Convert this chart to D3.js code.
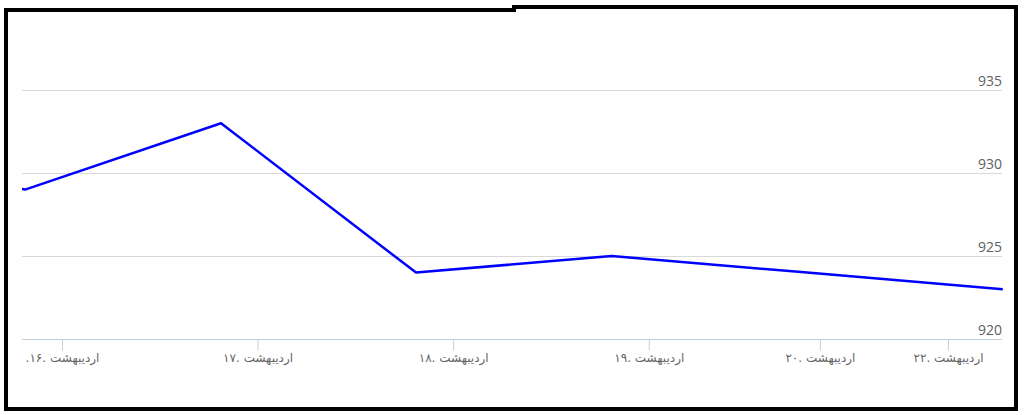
<!DOCTYPE html>
<html><head><meta charset="utf-8">
<script src="https://cdn.jsdelivr.net/npm/d3@7"></script>
<style>html,body{margin:0;padding:0;background:#fff;}svg{display:block;}</style>
</head><body>
<svg id="c" width="1024" height="415"></svg>
<script>
// Data (x in day-of-month units, Ordibehesht)
const pointDays = [14.811, 15.811, 16.813, 17.81, 18.81, 19.81, 20.81];
const values    = [931, 929, 933, 924, 925, 924, 923];
const tickDays   = [16, 17, 18, 19, 19.875, 20.53];
const tickLabels = [".۱۶. اردیبهشت", "۱۷. اردیبهشت", "۱۸. اردیبهشت", "۱۹. اردیبهشت", "۲۰. اردیبهشت", "۲۲. اردیبهشت"];
const yTicks = [920, 925, 930, 935];

const svg = d3.select("#c");
const left = 22, right = 1002, bottom = 339;
const x = d3.scaleLinear().domain([15.7955, 20.806]).range([left, right]);
const y = d3.scaleLinear().domain([920, 940]).range([bottom, bottom - 20*16.6]);

// gridlines
svg.append("g").selectAll("line").data(yTicks.filter(d => d !== 920)).join("line")
  .attr("x1", left).attr("x2", right)
  .attr("y1", d => y(d) + 0.5).attr("y2", d => y(d) + 0.5)
  .attr("stroke", "#d8d8d8").attr("stroke-width", 1);

// y labels
svg.append("g").selectAll("text").data(yTicks).join("text")
  .attr("x", right).attr("y", d => y(d) - 4)
  .attr("text-anchor", "end")
  .attr("font-family", "'Open Sans', sans-serif").attr("font-size", 14)
  .attr("fill", "#606060")
  .text(d => d);

// x axis
const xAxis = d3.axisBottom(x).tickValues(tickDays).tickSize(11).tickFormat((d, i) => tickLabels[i]);
const gx = svg.append("g").attr("transform", `translate(0,${bottom + 0.5})`).call(xAxis);
gx.select(".domain").attr("stroke", "#c0d0e0").attr("d", `M${left},0H${right}`);
gx.selectAll(".tick line").attr("stroke", "#c0d0e0");
gx.selectAll(".tick text")
  .attr("font-family", "'DejaVu Sans', sans-serif").attr("font-size", 12)
  .attr("fill", "#666").attr("dy", "1.05em").attr("y", 10)
  .attr("direction", "ltr");

// clip + line
svg.append("clipPath").attr("id", "clip").append("rect")
  .attr("x", left).attr("y", 0).attr("width", right - left + 2).attr("height", 415);
const line = d3.line().x((d, i) => x(pointDays[i])).y(d => y(d));
svg.append("path").datum(values)
  .attr("clip-path", "url(#clip)")
  .attr("d", line).attr("fill", "none")
  .attr("stroke", "#0000ff").attr("stroke-width", 2.5).attr("stroke-linejoin", "round");

// frame
svg.append("path")
  .attr("d", "M6,409 V10 H514 V7 H1016 V409 Z")
  .attr("fill", "none").attr("stroke", "#000").attr("stroke-width", 4);
</script>
</body></html>
